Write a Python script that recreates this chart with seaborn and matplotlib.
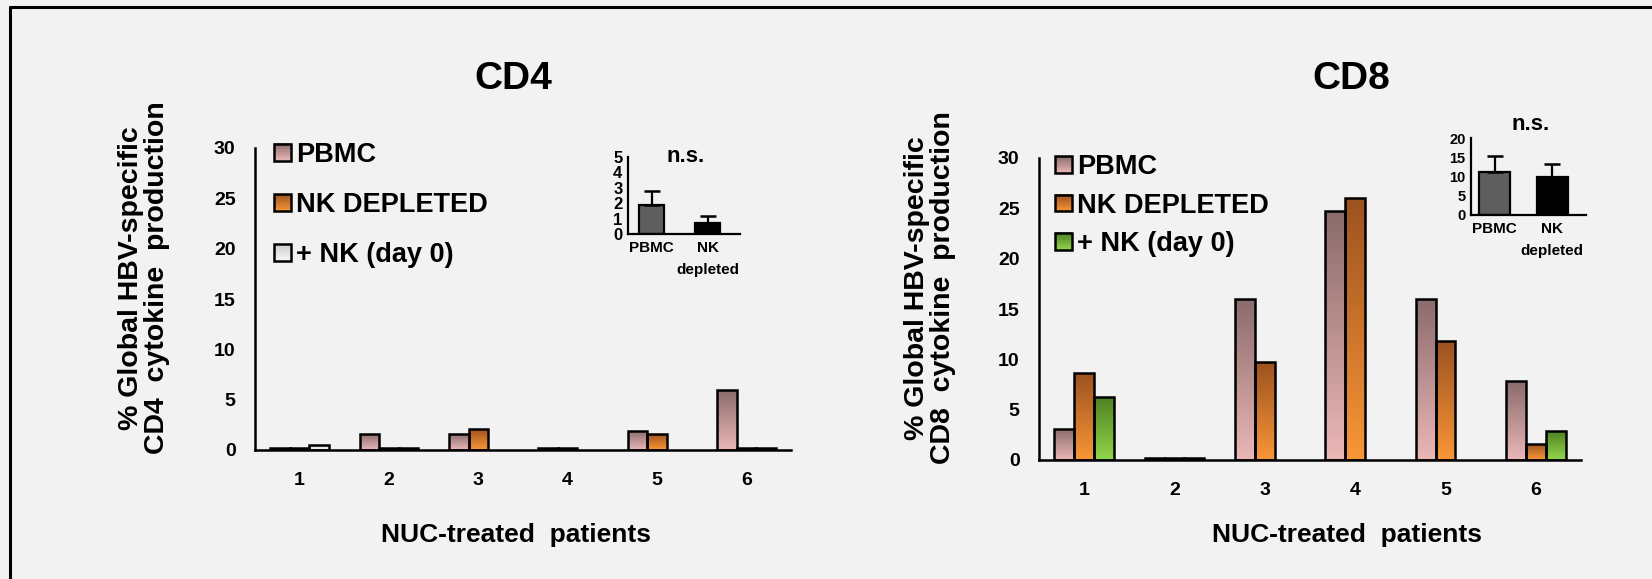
import numpy as np
import pandas as pd
import matplotlib
matplotlib.use("Agg")
import matplotlib.pyplot as plt
import seaborn as sns
from matplotlib.colors import LinearSegmentedColormap
from matplotlib.patches import Patch, Rectangle
from matplotlib.lines import Line2D
from matplotlib.legend_handler import HandlerBase

# ---- data -------------------------------------------------------------
patients = ["1", "2", "3", "4", "5", "6"]
conditions = ["PBMC", "NK DEPLETED", "+ NK (day 0)"]

cd4_pbmc = [0.2, 1.6, 1.6, 0.2, 1.9, 6.0]
cd4_nk_depleted = [0.2, 0.2, 2.1, 0.2, 1.6, 0.2]
cd4_nk_day0 = [0.5, 0.2, np.nan, np.nan, np.nan, 0.2]

cd8_pbmc = [3.1, 0.2, 16.0, 24.7, 16.0, 7.8]
cd8_nk_depleted = [8.6, 0.2, 9.7, 26.0, 11.8, 1.6]
cd8_nk_day0 = [6.3, 0.2, np.nan, np.nan, np.nan, 2.9]

inset_groups = ["PBMC", "NK\ndepleted"]
cd4_inset_mean = [1.9, 0.7]
cd4_inset_err = [0.9, 0.5]
cd8_inset_mean = [11.2, 9.9]
cd8_inset_err = [4.0, 3.3]

# ---- style ------------------------------------------------------------
BG = "#f2f2f2"
sns.set_style("white")
plt.rcParams["font.family"] = ["Liberation Sans", "DejaVu Sans"]
plt.rcParams["font.weight"] = "bold"
for key in ["text.color", "axes.labelcolor", "xtick.color", "ytick.color"]:
    plt.rcParams[key] = "black"

W, H = 1652, 579
fig = plt.figure(figsize=(W / 100, H / 100), dpi=100, facecolor=BG)


def px_axes(left, right, y0, ytop):
    """Create axes from pixel extents (origin top-left)."""
    return fig.add_axes([left / W, 1 - y0 / H, (right - left) / W, (y0 - ytop) / H])


def long_form(pbmc, nkd, nk0):
    rows = []
    for series, cond in zip([pbmc, nkd, nk0], conditions):
        for p, v in zip(patients, series):
            if not np.isnan(v):
                rows.append({"patient": p, "condition": cond, "value": v})
    return pd.DataFrame(rows)


class GradientSwatch:
    """Legend key carrying a top/bottom colour pair."""
    def __init__(self, top, bottom):
        self.top, self.bottom = top, bottom


class GradientHandler(HandlerBase):
    def create_artists(self, legend, orig, xd, yd, width, height, fontsize, trans):
        cmap = LinearSegmentedColormap.from_list("g", [orig.bottom, orig.top])
        n = 10
        side = min(width, height)
        x0, y0 = -xd, -yd + (height - side) / 2
        arts = []
        for i in range(n):
            arts.append(Rectangle((x0, y0 + side * i / n), side, side / n + 0.3,
                                  facecolor=cmap((i + 0.5) / n), edgecolor="none",
                                  transform=trans))
        arts.append(Rectangle((x0, y0), side, side, facecolor="none",
                              edgecolor="black", linewidth=1.8, transform=trans))
        return arts


def gradient_fill(ax, container, top, bottom):
    cmap = LinearSegmentedColormap.from_list("g", [bottom, top])
    grad = np.linspace(0, 1, 128).reshape(-1, 1)
    for p in container.patches:
        h = p.get_height()
        if not np.isfinite(h) or h <= 0:
            continue
        x, y, w = p.get_x(), p.get_y(), p.get_width()
        im = ax.imshow(grad, extent=(x, x + w, y, y + h), origin="lower",
                       cmap=cmap, aspect="auto", zorder=1.2, interpolation="bilinear")
        im.set_clip_path(p)
        p.set_facecolor("none")
        p.set_zorder(1.5)


def main_panel(ax, pbmc, nkd, nk0, colors, legend_pos, labelspacing):
    df = long_form(pbmc, nkd, nk0)
    mids = [c[2] for c in colors]
    sns.barplot(data=df, x="patient", y="value", hue="condition",
                order=patients, hue_order=conditions, palette=mids,
                width=0.66, errorbar=None, edgecolor="black", linewidth=1.8,
                legend=False, ax=ax)
    for cont, (top, bottom, _) in zip(ax.containers, colors):
        gradient_fill(ax, cont, top, bottom)
    ax.set_xlim(-0.5, 5.5)
    ax.set_ylim(0, 30)
    ax.set_facecolor("none")
    ax.set_yticks(range(0, 31, 5))
    ax.set_xticks(range(6))
    ax.set_xticklabels(patients)
    ax.set_xticks(np.arange(-0.5, 6, 1), minor=True)
    ax.tick_params(axis="x", which="major", length=0, pad=16, labelsize=14)
    ax.tick_params(axis="x", which="minor", length=6, width=1.8, direction="out",
                   color="black")
    ax.tick_params(axis="y", length=5, width=1.8, direction="out", color="black",
                   labelsize=14, pad=9)
    for lab in ax.get_xticklabels() + ax.get_yticklabels():
        lab.set_fontweight("bold")
    ax.set_xlabel("")
    ax.set_ylabel("")
    for s in ["top", "right"]:
        ax.spines[s].set_visible(False)
    for s in ["left", "bottom"]:
        ax.spines[s].set_color("black")
        ax.spines[s].set_linewidth(1.8)
    handles = [GradientSwatch(c[0], c[1]) for c in colors]
    leg = ax.legend(handles, conditions, loc="upper left", bbox_to_anchor=legend_pos,
                    frameon=False, borderpad=0, borderaxespad=0,
                    handlelength=0.62, handleheight=0.62, handletextpad=0.2,
                    labelspacing=labelspacing,
                    handler_map={GradientSwatch: GradientHandler()},
                    prop={"size": 19.5, "weight": "bold"})
    return leg


def inset_panel(ax, means, errs, ymax, step, width, xlim, ticksize, labsize):
    df = pd.DataFrame({"group": inset_groups, "value": means})
    sns.barplot(data=df, x="group", y="value", hue="group", palette=["#5e5e5e", "#000000"],
                width=width, errorbar=None, edgecolor="black", linewidth=1.6,
                legend=False, ax=ax)
    ax.errorbar(range(len(means)), means, yerr=[[0] * len(errs), errs], fmt="none",
                ecolor="black", elinewidth=1.6, capsize=6, capthick=1.8, zorder=3)
    ax.set_xlim(*xlim)
    ax.set_ylim(0, ymax)
    ax.set_yticks(np.arange(0, ymax + 0.1, step))
    ax.set_facecolor("none")
    ax.set_xlabel("")
    ax.set_ylabel("")
    ax.tick_params(axis="x", length=0, pad=5, labelsize=labsize)
    ax.tick_params(axis="y", length=3, width=1.4, direction="out", color="black",
                   labelsize=ticksize, pad=1)
    for lab in ax.get_xticklabels():
        lab.set_fontweight("bold")
        lab.set_linespacing(1.7)
    for lab in ax.get_yticklabels():
        lab.set_fontweight("bold")
    for s in ["top", "right"]:
        ax.spines[s].set_visible(False)
    for s in ["left", "bottom"]:
        ax.spines[s].set_color("black")
        ax.spines[s].set_linewidth(1.6)


cd4_colors = [("#8b6b6b", "#ebb7b7", "#c99a9a"),
              ("#9c5220", "#f99637", "#d97a30"),
              ("#cfcfcf", "#f7f7f7", "#d9d9d9")]
cd8_colors = [("#8b6b6b", "#ebb7b7", "#c99a9a"),
              ("#9c5220", "#f99637", "#d97a30"),
              ("#4e7f22", "#92d64a", "#78b83a")]

# ---- CD4 panel --------------------------------------------------------
ax4 = px_axes(255, 791, 450, 148)
main_panel(ax4, cd4_pbmc, cd4_nk_depleted, cd4_nk_day0, cd4_colors,
           (0.035, 1.021), 0.9)
fig.text(513 / W, 1 - 79 / H, "CD4", ha="center", va="center", fontsize=28,
         fontweight="bold")
fig.text(144 / W, 1 - 278 / H, "% Global HBV-specific\nCD4  cytokine  production",
         rotation=90, ha="center", va="center", fontsize=20.5, fontweight="bold",
         linespacing=1.05, multialignment="center")
fig.text(516 / W, 1 - 535 / H, "NUC-treated  patients", ha="center", va="center",
         fontsize=19, fontweight="bold")

ins4 = px_axes(628, 740, 234, 157)
inset_panel(ins4, cd4_inset_mean, cd4_inset_err, 5, 1, 0.45, (-0.42, 1.58), 12, 11)
fig.text(686 / W, 1 - 157 / H, "n.s.", ha="center", va="center", fontsize=16,
         fontweight="bold")

# ---- CD8 panel --------------------------------------------------------
ax8 = px_axes(1039, 1581, 460, 158)
main_panel(ax8, cd8_pbmc, cd8_nk_depleted, cd8_nk_day0, cd8_colors,
           (0.0295, 1.012), 0.45)
fig.text(1351 / W, 1 - 79 / H, "CD8", ha="center", va="center", fontsize=28,
         fontweight="bold")
fig.text(930 / W, 1 - 288 / H, "% Global HBV-specific\nCD8  cytokine  production",
         rotation=90, ha="center", va="center", fontsize=20.5, fontweight="bold",
         linespacing=1.05, multialignment="center")
fig.text(1347 / W, 1 - 535 / H, "NUC-treated  patients", ha="center", va="center",
         fontsize=19, fontweight="bold")

ins8 = px_axes(1471, 1586, 215, 138)
inset_panel(ins8, cd8_inset_mean, cd8_inset_err, 20, 5, 0.54, (-0.41, 1.59), 10.5, 11)
fig.text(1531 / W, 1 - 125 / H, "n.s.", ha="center", va="center", fontsize=16,
         fontweight="bold")

# ---- outer frame (left and top edges) ---------------------------------
fx, fy = 10 / W, 1 - 7 / H
fig.add_artist(Line2D([fx, fx], [0, fy], color="black", linewidth=2.2))
fig.add_artist(Line2D([fx, 1], [fy, fy], color="black", linewidth=2.2))

fig.savefig("out.png", dpi=100, facecolor=BG)
